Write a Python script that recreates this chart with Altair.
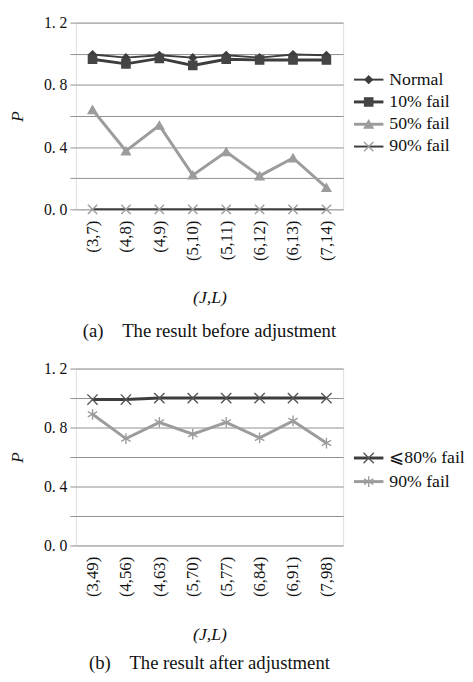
import altair as alt
import pandas as pd

FONT = "Liberation Serif"
DARK = "#3d3d3d"
MID = "#555555"
GRAY = "#9c9c9c"
GRID = "#8e8e8e"
TEXT = "#111111"

# ---- panel (a) data ----
pairs_a = ["(3,7)", "(4,8)", "(4,9)", "(5,10)", "(5,11)", "(6,12)", "(6,13)", "(7,14)"]
series_a = ["Normal", "10% fail", "50% fail", "90% fail"]
p_normal = [0.995, 0.975, 0.99, 0.975, 0.99, 0.975, 0.995, 0.99]
p_fail10 = [0.965, 0.935, 0.97, 0.925, 0.965, 0.96, 0.96, 0.96]
p_fail50 = [0.64, 0.375, 0.54, 0.22, 0.37, 0.215, 0.33, 0.14]
p_fail90 = [0.0, 0.0, 0.0, 0.0, 0.0, 0.0, 0.0, 0.0]

# ---- panel (b) data ----
pairs_b = ["(3,49)", "(4,56)", "(4,63)", "(5,70)", "(5,77)", "(6,84)", "(6,91)", "(7,98)"]
series_b = ["\u2a7d80% fail", "90% fail"]
p_le80 = [0.99, 0.99, 1.0, 1.0, 1.0, 1.0, 1.0, 1.0]
p_fail90b = [0.89, 0.725, 0.835, 0.755, 0.835, 0.73, 0.845, 0.695]

y_ticks = [0.0, 0.2, 0.4, 0.6, 0.8, 1.0, 1.2]

X_CROSS = "M-1,-1L1,1M-1,1L1,-1"
ASTERISK = "M0,-1L0,1M-0.87,-0.5L0.87,0.5M-0.87,0.5L0.87,-0.5"

# style per series: line colour, line width, marker shape, marker size, fill, stroke
style_a = {
    "Normal": (DARK, 2, "diamond", 55, DARK, DARK),
    "10% fail": (DARK, 3, "square", 70, "#454545", "#454545"),
    "50% fail": (GRAY, 3, "triangle-up", 80, GRAY, GRAY),
    "90% fail": (DARK, 2, X_CROSS, 90, "transparent", GRAY),
}
style_b = {
    "\u2a7d80% fail": (DARK, 3, X_CROSS, 110, "transparent", MID),
    "90% fail": (GRAY, 3, ASTERISK, 120, "transparent", GRAY),
}


def panel(pairs, series, values, style, height, leg_first, leg_step, caption,
          draw_order, title_y, cap_offset):
    width = 272
    rows = []
    for s, vals in zip(series, values):
        for p, v in zip(pairs, vals):
            rows.append({"pair": p, "series": s, "P": v})
    df = pd.DataFrame(rows)
    leg = pd.DataFrame({"series": series, "row": list(range(len(series)))})

    x_axis = alt.Axis(
        title="(J,L)", labelAngle=-90, labelFont=FONT, labelFontSize=17,
        labelColor=TEXT, labelPadding=11, ticks=False, domain=False,
        titleFont=FONT, titleFontSize=18, titleFontStyle="italic",
        titleFontWeight="normal", titleColor=TEXT, titleY=title_y,
        titleBaseline="middle",
    )
    y_axis = alt.Axis(
        values=y_ticks,
        labelExpr="round(datum.value*5) % 2 == 0 ? replace(format(datum.value, '.1f'), '.', '. ') : ''",
        labelFont=FONT, labelFontSize=16, labelColor=TEXT, labelPadding=3,
        tickSize=6, tickColor=GRID, domain=False, grid=True, gridColor=GRID,
        gridOpacity=1, title="P", titleFont=FONT, titleFontSize=18,
        titleFontStyle="italic", titleFontWeight="normal", titleColor=TEXT,
        titlePadding=17,
    )
    x_enc = alt.X("pair:N", sort=pairs, scale=alt.Scale(type="point", padding=0.5), axis=x_axis)
    y_scale = alt.Scale(domain=[0, 1.2], nice=False, zero=False)
    y_enc = alt.Y("P:Q", scale=y_scale, axis=y_axis)

    base = alt.Chart(df)
    plot_layers = []
    for s in draw_order:
        lc, lw, _, _, _, _ = style[s]
        plot_layers.append(
            base.transform_filter(alt.datum.series == s)
            .mark_line(color=lc, strokeWidth=lw)
            .encode(x=x_enc, y=y_enc)
        )
    for s in draw_order:
        _, _, shp, sz, fc, sc = style[s]
        plot_layers.append(
            base.transform_filter(alt.datum.series == s)
            .mark_point(shape=shp, size=sz, fill=fc, stroke=sc, strokeWidth=1.4,
                        filled=False, opacity=1, fillOpacity=1)
            .encode(x=x_enc, y=y_enc)
        )
    plot = alt.layer(*plot_layers)

    d0 = -leg_first / leg_step
    d1 = d0 + height / leg_step
    leg_y = alt.Y("row:Q", scale=alt.Scale(domain=[d0, d1], reverse=True, nice=False, zero=False), axis=None)
    lbase = alt.Chart(leg)
    leg_layers = []
    for s in series:
        lc, lw, shp, sz, fc, sc = style[s]
        sub = lbase.transform_filter(alt.datum.series == s)
        leg_layers.append(
            sub.mark_rule(color=lc, strokeWidth=lw).encode(
                x=alt.value(width + 11), x2=alt.value(width + 41), y=leg_y)
        )
        leg_layers.append(
            sub.mark_point(shape=shp, size=sz, fill=fc, stroke=sc, strokeWidth=1.4,
                           filled=False, opacity=1, fillOpacity=1)
            .encode(x=alt.value(width + 26), y=leg_y)
        )
        leg_layers.append(
            sub.mark_text(align="left", baseline="middle", font=FONT, fontSize=18, color=TEXT)
            .encode(x=alt.value(width + 47), y=leg_y, text="series:N")
        )
    legend = alt.layer(*leg_layers)

    return alt.layer(plot, legend).resolve_scale(y="independent").properties(
        width=width, height=height,
        title=alt.TitleParams(caption, orient="bottom", anchor="middle", frame="group",
                              font=FONT, fontSize=19, fontWeight="normal", color=TEXT,
                              offset=cap_offset),
    )


chart_a = panel(pairs_a, series_a, [p_normal, p_fail10, p_fail50, p_fail90], style_a,
                190, 58, 22.7, "(a)\u2003The result before adjustment",
                ["50% fail", "Normal", "10% fail", "90% fail"], 90, 16)
chart_b = panel(pairs_b, series_b, [p_le80, p_fail90b], style_b,
                180, 91, 24, "(b)\u2003The result after adjustment",
                ["90% fail", "\u2a7d80% fail"], 91, 11)

chart = alt.vconcat(chart_a, chart_b, spacing=18).properties(padding=0).configure_view(
    stroke="#999999", strokeWidth=1
).configure(font=FONT, background="white")

chart.save("out.html", embed_options={"renderer": "svg", "actions": False})
